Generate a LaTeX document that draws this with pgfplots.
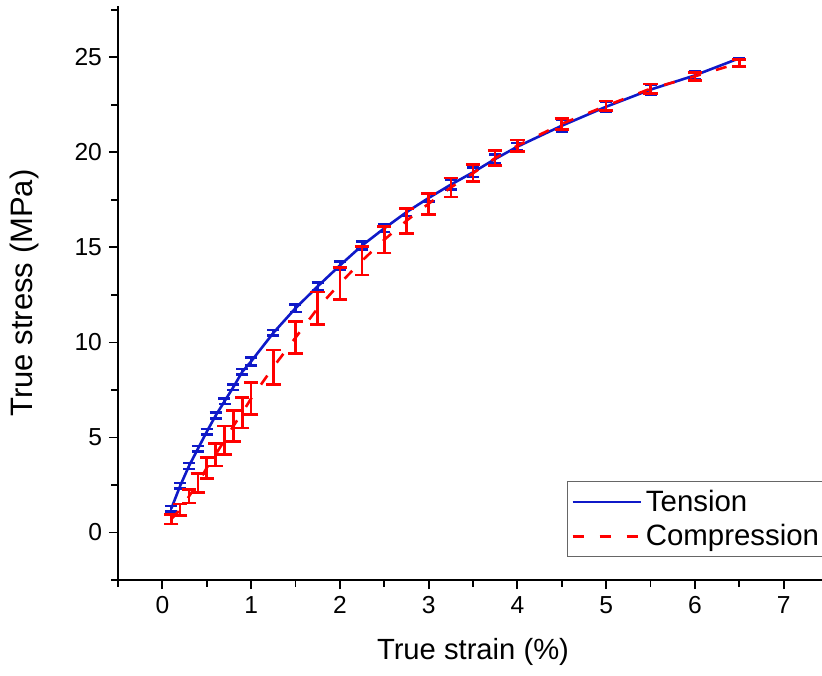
\documentclass[border=0pt]{standalone}
\usepackage{pgfplots}
\pgfplotsset{compat=1.18}
\usepackage{fontspec}
\setmainfont{Liberation Sans}
\definecolor{tblue}{RGB}{15,25,200}
\definecolor{cred}{RGB}{255,0,0}
\begin{document}
\begin{tikzpicture}[x=1pt,y=1pt]
\begin{axis}[
  scale only axis,
  width=355pt, height=287pt,
  xmin=-0.5, xmax=7.5, ymin=-2.5, ymax=27.7,
  axis x line*=bottom, axis y line*=left,
  axis line style={line width=1pt},
  xtick={0,1,...,7}, minor xtick={-0.5,0.5,1.5,...,7.5},
  ytick={0,5,...,25}, minor ytick={-2.5,2.5,7.5,...,27.5},
  tick align=outside,
  major tick length=4.5pt, minor tick length=3.3pt,
  every tick/.style={black, line width=0.9pt},
  tick label style={font=\fontsize{12.3}{14}\selectfont},
  /pgf/number format/assume math mode=true,
  xlabel={True strain (\%)}, ylabel={True stress (MPa)},
  xlabel style={font=\fontsize{14.6}{17}\selectfont},
  ylabel style={font=\fontsize{15.5}{18}\selectfont},
  xlabel shift=5.5pt, ylabel shift=11pt,
  legend style={at={(rel axis cs:0.632,0.04)}, anchor=south west,
    draw=gray!80!black, line width=0.6pt, font=\fontsize{14.7}{17}\selectfont,
    row sep=1pt, inner sep=2pt},
  legend cell align=left,
  legend image code/.code={\draw[#1, line width=1.3pt] (0pt,0pt) -- (34pt,0pt);},
]
\addplot[color=tblue, line width=1.3pt, mark=none,
  error bars/.cd, y dir=both, y explicit,
  error bar style={line width=1.1pt, tblue},
  error mark options={line width=1.3pt, mark size=3pt, tblue, rotate=90}]
table[x=x, y=y, y error=e] {
x y e
0.1 1.25 0.15
0.2 2.45 0.15
0.3 3.5 0.15
0.4 4.4 0.15
0.5 5.3 0.15
0.6 6.15 0.15
0.7 6.9 0.15
0.8 7.65 0.15
0.9 8.45 0.15
1.0 9.0 0.2
1.25 10.5 0.15
1.5 11.8 0.2
1.75 12.95 0.2
2.0 14.05 0.2
2.25 15.1 0.2
2.5 16.0 0.2
2.75 16.85 0.2
3.0 17.6 0.2
3.25 18.3 0.25
3.5 18.95 0.25
3.75 19.65 0.25
4.0 20.3 0.2
4.5 21.4 0.3
5.0 22.4 0.25
5.5 23.3 0.25
6.0 24.05 0.2
6.5 24.95 0
};
\addlegendentry{Tension}
\addplot[color=cred, line width=1.3pt, dash pattern=on 5.5pt off 8pt, mark=none,
  error bars/.cd, y dir=both, y explicit,
  error bar style={line width=1.3pt, cred, solid},
  error mark options={line width=1.4pt, mark size=3.6pt, cred, rotate=90, solid}]
table[x=x, y=y, y error=e] {
x y e
0.1 0.7 0.25
0.2 1.2 0.3
0.3 1.9 0.35
0.4 2.6 0.5
0.5 3.4 0.55
0.6 4.1 0.6
0.7 4.85 0.75
0.8 5.6 0.8
0.9 6.3 0.8
1.0 7.05 0.85
1.25 8.7 0.9
1.5 10.25 0.85
1.75 11.8 0.85
2.0 13.1 0.85
2.25 14.3 0.75
2.5 15.4 0.7
2.75 16.4 0.65
3.0 17.3 0.55
3.25 18.15 0.5
3.5 18.9 0.45
3.75 19.7 0.4
4.0 20.35 0.3
4.5 21.5 0.3
5.0 22.45 0.25
5.5 23.35 0.25
6.0 24.0 0.2
6.5 24.7 0.2
};
\addlegendentry{Compression\hspace{8pt}}
\end{axis}
\pgfresetboundingbox
\path[use as bounding box] (-59pt,-47.5pt) rectangle (352pt,290pt);
\end{tikzpicture}
\end{document}
